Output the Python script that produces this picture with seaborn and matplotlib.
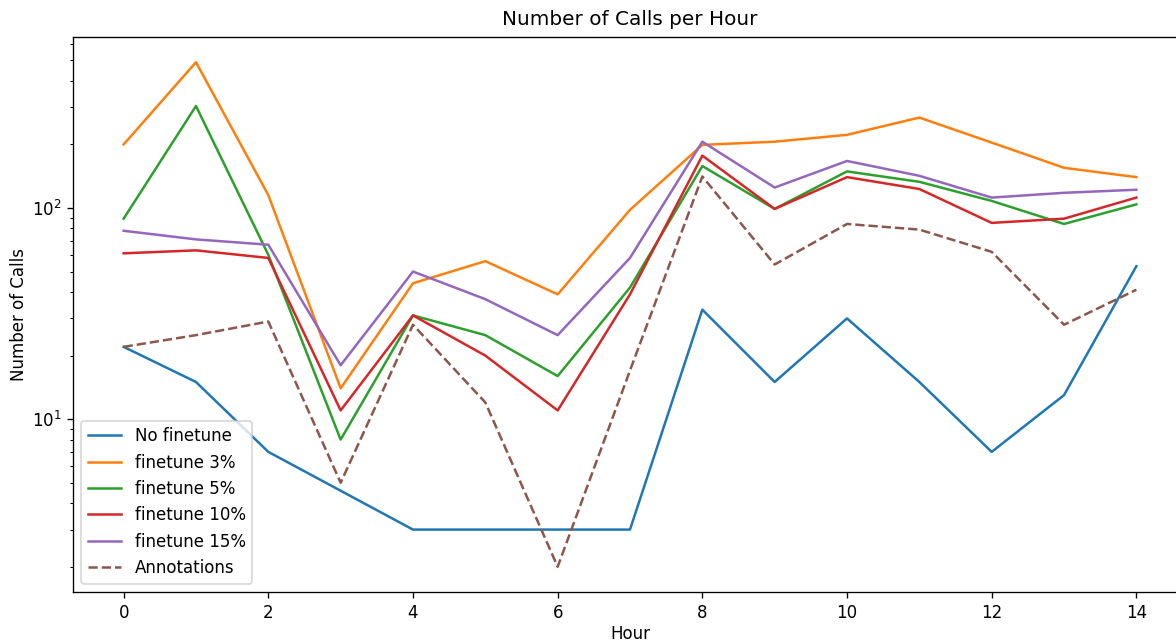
import matplotlib
matplotlib.use("Agg")
import matplotlib.pyplot as plt
import seaborn as sns
import pandas as pd

hours = list(range(15))
hours_no_finetune = [0, 1, 2, 4, 5, 6, 7, 8, 9, 10, 11, 12, 13, 14]

no_finetune = [22, 15, 7, 3, 3, 3, 3, 33, 15, 30, 15, 7, 13, 53]
finetune_3 = [200, 490, 115, 14, 44, 56, 39, 98, 199, 206, 222, 268, 204, 155, 140]
finetune_5 = [89, 304, 60, 8, 31, 25, 16, 42, 158, 99, 149, 133, 108, 84, 104]
finetune_10 = [61, 63, 58, 11, 31, 20, 11, 39, 177, 99, 140, 123, 85, 89, 112]
finetune_15 = [78, 71, 67, 18, 50, 37, 25, 58, 206, 125, 167, 142, 112, 118, 122]
annotations = [22, 25, 29, 5, 28, 12, 2, 17, 141, 54, 84, 79, 62, 28, 41]

series_names = ["No finetune", "finetune 3%", "finetune 5%",
                "finetune 10%", "finetune 15%", "Annotations"]

series = [
    (series_names[0], hours_no_finetune, no_finetune),
    (series_names[1], hours, finetune_3),
    (series_names[2], hours, finetune_5),
    (series_names[3], hours, finetune_10),
    (series_names[4], hours, finetune_15),
    (series_names[5], hours, annotations),
]

colors = ["#1f77b4", "#ff7f0e", "#2ca02c", "#d62728", "#9467bd", "#8c564b"]
styles = ["-", "-", "-", "-", "-", "--"]

plt.rcParams["font.family"] = ["DejaVu Sans"]

DPI = 120
fig = plt.figure(figsize=(1176 / DPI, 644 / DPI), dpi=DPI)
ax = fig.add_axes([73 / 1176, 1 - 592 / 644, (1187 - 73) / 1176, (592 - 37) / 644])

for (name, xs, ys), c, ls in zip(series, colors, styles):
    df = pd.DataFrame({"Hour": xs, "Calls": ys})
    sns.lineplot(data=df, x="Hour", y="Calls", ax=ax, color=c,
                 linestyle=ls, linewidth=1.5, label=name)

ax.set_yscale("log")
ax.set_xticks([0, 2, 4, 6, 8, 10, 12, 14])
ax.set_title("Number of Calls per Hour", fontsize=12, pad=7)
ax.set_xlabel("Hour", fontsize=10, labelpad=2)
ax.set_ylabel("Number of Calls", fontsize=10, labelpad=2)
ax.legend(loc="lower left", fontsize=10)

fig.savefig("out.png", dpi=DPI)
